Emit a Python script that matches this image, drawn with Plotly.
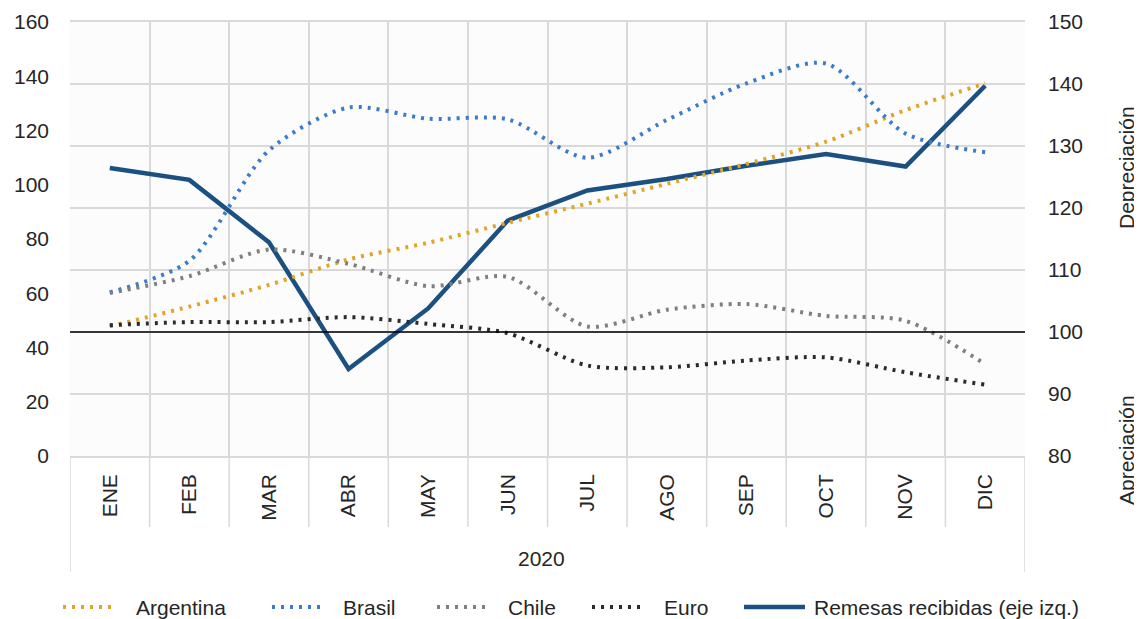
import plotly.graph_objects as go

months = ['ENE', 'FEB', 'MAR', 'ABR', 'MAY', 'JUN', 'JUL', 'AGO', 'SEP', 'OCT', 'NOV', 'DIC']
year_label = '2020'
argentina = [100.9, 104.1, 107.6, 111.7, 114.4, 117.6, 120.7, 123.9, 127.1, 130.7, 135.8, 140.1]
brasil = [106.4, 111.5, 129.3, 136.2, 134.4, 134.3, 128.1, 134.2, 140.1, 143.3, 132.0, 129.0]
chile = [106.3, 109.0, 113.3, 111.0, 107.4, 108.9, 100.9, 103.6, 104.5, 102.6, 101.8, 94.8]
euro = [101.1, 101.6, 101.6, 102.4, 101.3, 99.8, 94.6, 94.3, 95.4, 95.9, 93.5, 91.5]
remesas = [106.2, 101.8, 78.8, 32.1, 54.4, 86.8, 97.9, 102.1, 107.0, 111.3, 106.7, 136.5]

FONT = 'Liberation Sans, Arial, sans-serif'
TXT = '#262626'
GRID = '#D9D9D9'
FS = 21

# page body has an 8px margin: figure sits at (8, 8) in the 1142x619 window
OFF = 8
W, H = 1142 - OFF, 619 - OFF
SL, SR, ST, SB = 70, 1025, 22, 456          # plot area in window pixels
ML, MR, MT, MB = SL - OFF, (W + OFF) - SR, ST - OFF, (H + OFF) - SB
PW = SR - SL
PH = SB - ST


def px_x(x):
    return (x - SL) / PW


def px_y(y):
    return (SB - y) / PH


series = [
    dict(name='Argentina', vals=argentina, color='#E0A526', axis='y2', dotted=True),
    dict(name='Brasil', vals=brasil, color='#3A7CC9', axis='y2', dotted=True),
    dict(name='Chile', vals=chile, color='#7F7F7F', axis='y2', dotted=True),
    dict(name='Euro', vals=euro, color='#2B2B2B', axis='y2', dotted=True),
    dict(name='Remesas recibidas (eje izq.)', vals=remesas, color='#1B5080', axis='y', dotted=False),
]
# legend layout (window pixel positions of sample start/end and text start)
legend_pos = [(63, 116, 136), (272, 326, 343), (437, 489, 508), (592, 645, 664), (744, 805, 814)]
LEG_Y = 607

DOT = dict(width=4, dash='3px,6px')
SOLID = dict(width=4.5)

fig = go.Figure()
for s in series:
    if s['dotted']:
        line = dict(color=s['color'], shape='spline', smoothing=0.8, **DOT)
    else:
        line = dict(color=s['color'], **SOLID)
    fig.add_trace(go.Scatter(x=months, y=s['vals'], name=s['name'], yaxis=s['axis'],
                             mode='lines', line=line, showlegend=False))

shapes = []
n = len(months)
for i in range(n + 1):
    outer = (i == 0 or i == n)
    shapes.append(dict(type='line', xref='x', yref='paper', x0=i - 0.5, x1=i - 0.5,
                       y0=0, y1=-(116 if outer else 71) / PH,
                       line=dict(color=GRID, width=1.5)))
shapes.append(dict(type='line', xref='paper', yref='y2', x0=0, x1=1, y0=100, y1=100,
                   line=dict(color='black', width=1.5)))

annotations = [
    dict(text=year_label, xref='paper', yref='paper', x=px_x(541), y=px_y(558),
         showarrow=False, font=dict(size=FS), xanchor='center', yanchor='middle'),
    dict(text='Depreciación', xref='paper', yref='paper', x=px_x(1126), y=px_y(168),
         textangle=-90, showarrow=False, font=dict(size=FS), xanchor='center', yanchor='middle'),
    dict(text='Apreciación', xref='paper', yref='paper', x=px_x(1126), y=px_y(450),
         textangle=-90, showarrow=False, font=dict(size=FS), xanchor='center', yanchor='middle'),
]

for s, (x0, x1, xt) in zip(series, legend_pos):
    ln = dict(color=s['color'], **(DOT if s['dotted'] else SOLID))
    shapes.append(dict(type='line', xref='paper', yref='paper', x0=px_x(x0), x1=px_x(x1),
                       y0=px_y(LEG_Y), y1=px_y(LEG_Y), line=ln))
    annotations.append(dict(text=s['name'], xref='paper', yref='paper', x=px_x(xt), y=px_y(LEG_Y),
                            showarrow=False, xanchor='left', yanchor='middle',
                            font=dict(size=FS), xshift=-2))

fig.update_layout(
    width=W, height=H,
    margin=dict(l=ML, r=MR, t=MT, b=MB, pad=0),
    paper_bgcolor='white', plot_bgcolor='#FCFCFC',
    font=dict(family=FONT, size=FS, color=TXT),
    showlegend=False,
    xaxis=dict(type='category', tickson='boundaries', showgrid=True, gridcolor=GRID, gridwidth=1.5,
               tickangle=-90, ticks='', showline=True, mirror=True, linecolor=GRID, linewidth=1.5,
               range=[-0.5, n - 0.5], ticklabelstandoff=8, tickfont=dict(size=FS), automargin=False),
    yaxis=dict(range=[0, 160], dtick=20, showgrid=False, zeroline=False, showline=False,
               ticklabelstandoff=20, tickfont=dict(size=FS), automargin=False),
    yaxis2=dict(range=[80, 150], dtick=10, overlaying='y', side='right', showgrid=True,
                gridcolor=GRID, gridwidth=1.5, zeroline=False, showline=False,
                ticklabelstandoff=22, tickfont=dict(size=FS), automargin=False),
    shapes=shapes,
    annotations=annotations,
)

fig.write_html('out.html')
